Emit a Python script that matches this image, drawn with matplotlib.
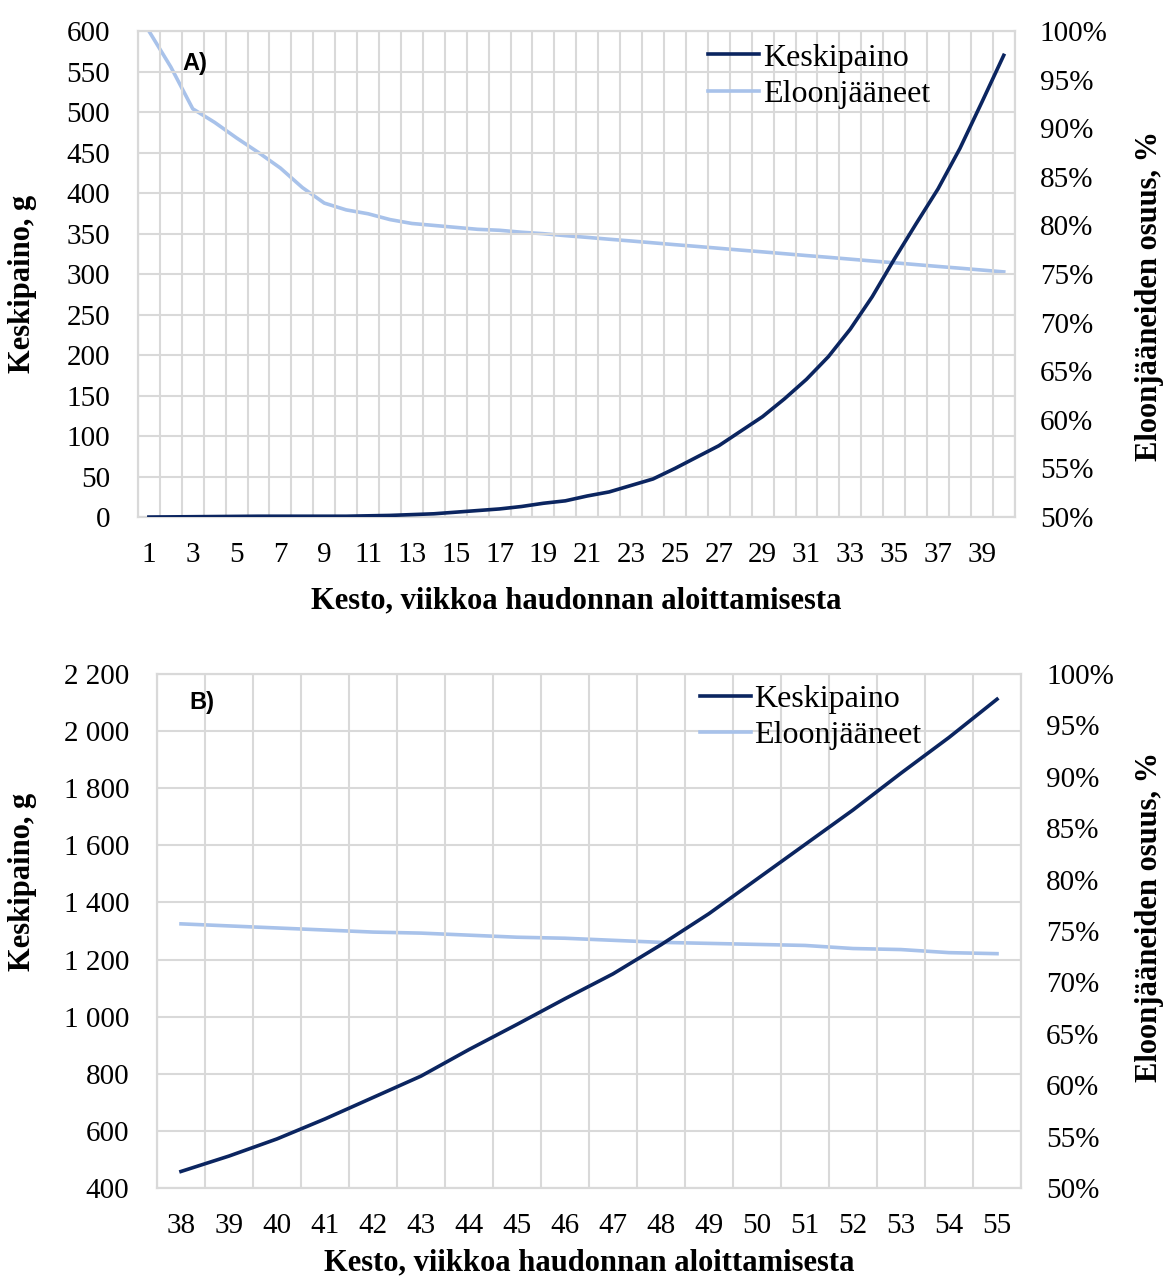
import matplotlib
matplotlib.use("Agg")
from matplotlib import pyplot as plt
from matplotlib.ticker import FuncFormatter, MultipleLocator
import numpy as np

plt.rcParams['font.family'] = ['Liberation Serif', 'DejaVu Serif']

# --- data, panel A (weeks 1..40) ---
weeks_a = list(range(1, 41))
weight_a = [0, 0.2, 0.4, 0.6, 0.8, 1, 1, 1, 1, 1,
            1.5, 2, 3, 4, 6, 8, 10, 13, 17, 20,
            26, 31, 39, 47, 60, 74, 88, 106, 124, 146,
            170, 198, 232, 272, 318, 362, 405, 455, 512, 570]
alive_a = [100, 96.3, 92.0, 90.6, 89.0, 87.5, 85.9, 83.9, 82.3, 81.6,
           81.2, 80.6, 80.2, 80.0, 79.8, 79.6, 79.5, 79.3, 79.15, 78.95,
           78.77, 78.58, 78.4, 78.21, 78.02, 77.84, 77.65, 77.46, 77.28, 77.09,
           76.9, 76.72, 76.53, 76.34, 76.16, 75.97, 75.78, 75.6, 75.41, 75.22]

# --- data, panel B (weeks 38..55) ---
weeks_b = list(range(38, 56))
weight_b = [458, 512, 572, 642, 717, 792, 885, 973, 1063, 1150,
            1252, 1361, 1482, 1603, 1724, 1853, 1978, 2112]
alive_b = [75.7, 75.5, 75.3, 75.1, 74.9, 74.8, 74.6, 74.4, 74.3, 74.1,
           73.9, 73.8, 73.7, 73.6, 73.3, 73.2, 72.9, 72.8]

names = ['Keskipaino', 'Eloonjääneet']
xlabel = 'Kesto, viikkoa haudonnan aloittamisesta'
ylabel_l = 'Keskipaino, g'
ylabel_r = 'Eloonjääneiden osuus, %'

dark = '#0B2560'
light = '#A8C2EA'
grid = '#D9D9D9'
fs = 21

fig = plt.figure(figsize=(11.69, 12.82), dpi=100)


def panel(rect, weeks, weight, alive, ylim, ystep, xlabels, tag, leg_xy,
          lab_l, lab_r, xpad):
    ax = fig.add_axes(rect)
    ax2 = ax.twinx()
    l1, = ax.plot(weeks, weight, color=dark, lw=2.6, zorder=3)
    l2, = ax2.plot(weeks, alive, color=light, lw=2.6, zorder=2)

    ax.set_xlim(weeks[0] - 0.5, weeks[-1] + 0.5)
    ax.set_ylim(*ylim)
    ax.yaxis.set_major_locator(MultipleLocator(ystep))
    ax2.set_ylim(50, 100)
    ax2.yaxis.set_major_locator(MultipleLocator(5))
    ax2.yaxis.set_major_formatter(FuncFormatter(lambda v, p: f"{v:.0f}%"))
    ax.yaxis.set_major_formatter(
        FuncFormatter(lambda v, p: f"{v:,.0f}".replace(',', ' ')))

    ax.set_xticks(xlabels)
    ax.set_xticks(np.arange(weeks[0] - 0.5, weeks[-1] + 1, 1), minor=True)
    ax.grid(True, which='minor', axis='x', color=grid, lw=1.5)
    ax.grid(True, which='major', axis='y', color=grid, lw=1.5)
    ax.set_axisbelow(True)

    for a in (ax, ax2):
        a.tick_params(which='both', length=0, labelsize=fs)
        for s in a.spines.values():
            s.set_color(grid)
            s.set_linewidth(1.5)
    ax.tick_params(axis='x', pad=18)
    ax.tick_params(axis='y', pad=20)
    ax2.tick_params(axis='y', pad=18)

    ax.set_zorder(ax2.get_zorder() + 1)
    ax.patch.set_visible(False)

    ax.set_xlabel(xlabel, fontsize=22, fontweight='bold', labelpad=xpad)
    ax.set_ylabel(ylabel_l, fontsize=22, fontweight='bold')
    ax2.set_ylabel(ylabel_r, fontsize=22, fontweight='bold')
    ax.yaxis.set_label_coords(*lab_l)
    ax2.yaxis.set_label_coords(*lab_r)

    ax.text(tag[1], tag[2], tag[0], transform=ax.transAxes, fontsize=17,
            fontweight='bold', family='Liberation Sans', ha='left', va='center')

    ax.legend([l1, l2], names, loc='upper left', bbox_to_anchor=leg_xy,
              frameon=False, fontsize=23, handlelength=1.6, handletextpad=0.12,
              labelspacing=0.22, borderpad=0, borderaxespad=0)
    return ax, ax2


panel([0.118, 0.5967, 0.750, 0.3791], weeks_a, weight_a, alive_a, (0, 600), 50,
      list(range(1, 41, 2)), ('A)', 0.051, 0.934), (0.650, 0.975),
      (-0.115, 0.479), (1.137, 0.455), 13)
panel([0.1343, 0.0733, 0.7391, 0.4009], weeks_b, weight_b, alive_b, (400, 2200), 200,
      weeks_b, ('B)', 0.038, 0.944), (0.628, 0.98),
      (-0.139, 0.595), (1.132, 0.527), 7)

plt.savefig('out.png', dpi=100)
